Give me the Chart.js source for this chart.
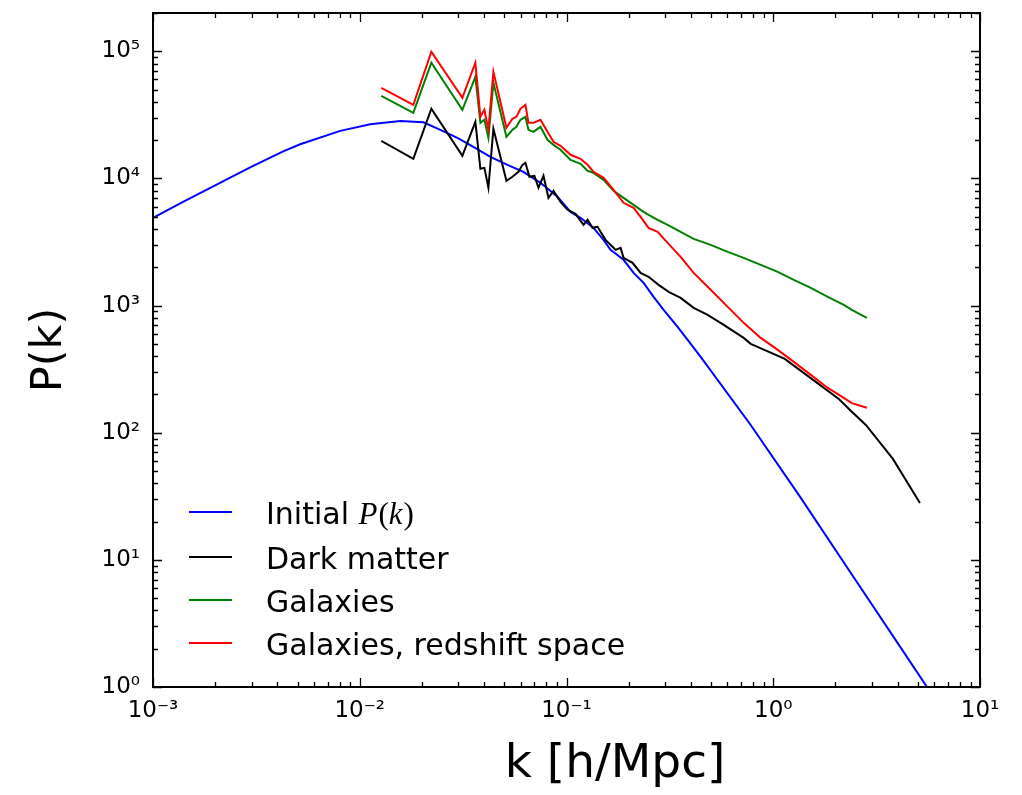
<!DOCTYPE html>
<html><head><meta charset="utf-8">
<script src="https://cdn.jsdelivr.net/npm/chart.js@4.4.1/dist/chart.umd.min.js"></script>
<style>html,body{margin:0;padding:0;background:#fff;}</style>
</head><body>
<canvas id="c" width="1022" height="795"></canvas>
<script>
// ---- data ----
const initialK = [0.001, 0.001397, 0.002042, 0.002951, 0.004261, 0.005152, 0.008045, 0.01124, 0.01571, 0.0203, 0.02454, 0.02966, 0.03546, 0.04285, 0.0518, 0.0619, 0.07482, 0.09045, 0.1046, 0.1169, 0.1351, 0.1511, 0.1633, 0.1888, 0.2111, 0.236, 0.2638, 0.2949, 0.3447, 0.3855, 0.4456, 0.778, 1.359, 2.373, 4.143, 6.473];
const initialP = [4898, 6546, 8990, 12230, 16340, 18550, 23660, 26650, 28230, 27620, 24110, 20850, 17740, 14790, 12790, 11270, 9230, 7166, 5458, 4898, 4085, 3288, 2744, 2290, 1808, 1509, 1170, 925, 680, 537, 395, 115, 30.7, 7.89, 2.03, 0.684];

const dmK = [0.01271, 0.01816, 0.0222, 0.03136, 0.03624, 0.03833, 0.04008, 0.0419, 0.04431, 0.05122, 0.05477, 0.05857, 0.06122, 0.06331, 0.06619, 0.06998, 0.07318, 0.07737, 0.0818, 0.0865, 0.09352, 0.1011, 0.1106, 0.1209, 0.1264, 0.1336, 0.1413, 0.1545, 0.1727, 0.1826, 0.1888, 0.2087, 0.2282, 0.2494, 0.2789, 0.3118, 0.3565, 0.4121, 0.4817, 0.5759, 0.7195, 0.778, 1.137, 1.661, 2.076, 2.399, 2.805, 3.791, 5.122];
const dmP = [19770, 14270, 35300, 15060, 27880, 11900, 12100, 8440, 24560, 9580, 10300, 11270, 12790, 13270, 10300, 10480, 8440, 10480, 7036, 7986, 6546, 5664, 5270, 4318, 4725, 4085, 4162, 3288, 2744, 2845, 2373, 2168, 1808, 1683, 1455, 1282, 1150, 959, 845, 705, 557, 500, 381, 241, 184, 146, 115, 62.2, 28.0];

const galK = [0.01271, 0.01816, 0.0222, 0.03136, 0.03624, 0.03833, 0.04008, 0.0419, 0.04431, 0.05122, 0.05477, 0.05726, 0.05987, 0.06331, 0.06546, 0.06921, 0.07482, 0.08091, 0.0865, 0.09352, 0.1046, 0.1169, 0.1264, 0.1351, 0.1511, 0.1689, 0.1888, 0.2111, 0.2282, 0.2494, 0.2759, 0.3084, 0.3565, 0.4121, 0.4981, 0.6022, 0.7195, 0.87, 1.051, 1.257, 1.519, 1.836, 2.194, 2.399, 2.837];
const galP = [44650, 32810, 81200, 34640, 63000, 27360, 28900, 20850, 56500, 21250, 24110, 25460, 28900, 30530, 24110, 23260, 25460, 20120, 18370, 16800, 14000, 13030, 11480, 11070, 9750, 7986, 7036, 6198, 5664, 5173, 4725, 4318, 3800, 3348, 3004, 2646, 2373, 2091, 1842, 1593, 1378, 1170, 1013, 925, 800];
const rsdP = [51600, 37930, 99100, 43060, 81200, 30530, 34640, 24110, 69000, 24990, 29440, 30530, 35300, 37930, 27360, 27360, 28900, 23260, 19410, 18040, 15340, 14270, 12790, 11270, 10110, 8130, 6427, 5870, 4990, 4085, 3800, 3113, 2417, 1808, 1330, 977, 731, 557, 448, 361, 285, 225, 188, 171, 157];

const seriesLabels = ['Initial P(k)', 'Dark matter', 'Galaxies', 'Galaxies, redshift space'];
const seriesColors = ['#0000ff', '#000000', '#008000', '#ff0000'];
const xDecades = [-3, -2, -1, 0, 1];
const yDecades = [0, 1, 2, 3, 4, 5];
const xLimits = [1e-3, 10];
const yLimits = [1, 2e5];
const xTitle = 'k [h/Mpc]';
const yTitle = 'P(k)';

// ---- helpers ----
const pts = (ks, ps) => ks.map((k, i) => ({x: k, y: ps[i]}));
const SUP = {'-':'\u207B','0':'\u2070','1':'\u00B9','2':'\u00B2','3':'\u00B3','4':'\u2074','5':'\u2075','6':'\u2076','7':'\u2077','8':'\u2078','9':'\u2079'};
function isDecade(v){ const e = Math.log10(v); return Math.abs(e - Math.round(e)) < 1e-9; }
function decadeLabel(v){ if (!isDecade(v)) return ''; const e = Math.round(Math.log10(v)); return '10' + String(e).split('').map(c => SUP[c]).join(''); }
function logTicks(decades, lo, hi){
  const out = [];
  for (const d of decades) for (let m = 1; m <= 9; m++) { const v = m * Math.pow(10, d); if (v >= lo*0.999999 && v <= hi*1.000001) out.push({value: v, major: m === 1}); }
  return out;
}

const tickFont = {family: 'DejaVu Sans', size: 23};

const framePlugin = {
  id: 'frameTicks',
  afterDraw(chart){
    const {ctx, chartArea: {left, right, top, bottom}, scales: {x, y}} = chart;
    ctx.save();
    ctx.strokeStyle = '#000';
    ctx.lineWidth = 1.3;
    ctx.beginPath();
    x.ticks.forEach(t => {
      const px = Math.round(x.getPixelForValue(t.value)) + 0.5;
      const L = t.major ? 9 : 5;
      ctx.moveTo(px, bottom); ctx.lineTo(px, bottom - L);
      ctx.moveTo(px, top); ctx.lineTo(px, top + L);
    });
    y.ticks.forEach(t => {
      const py = Math.round(y.getPixelForValue(t.value)) + 0.5;
      const L = t.major ? 9 : 5;
      ctx.moveTo(left, py); ctx.lineTo(left + L, py);
      ctx.moveTo(right, py); ctx.lineTo(right - L, py);
    });
    ctx.stroke();
    ctx.lineWidth = 2;
    ctx.strokeRect(left, top, right - left, bottom - top);

    // x axis title (placed as in the reference, right of centre)
    ctx.fillStyle = '#000';
    ctx.font = '47px "DejaVu Sans"';
    ctx.textAlign = 'center';
    ctx.textBaseline = 'alphabetic';
    ctx.fillText(xTitle, 615, 777);

    // legend (inside plot, lower left)
    const lx0 = 189, lx1 = 232, tx = 266;
    const rows = [512, 557, 600, 643];
    const fs = 30;
    chart.data.datasets.slice().sort((a, b) => a.legendIndex - b.legendIndex).forEach((ds, i) => {
      const yy = rows[i];
      ctx.strokeStyle = ds.borderColor; ctx.lineWidth = 2;
      ctx.beginPath(); ctx.moveTo(lx0, yy); ctx.lineTo(lx1, yy); ctx.stroke();
      ctx.fillStyle = '#000';
      ctx.textBaseline = 'alphabetic';
      ctx.textAlign = 'left';
      const base = yy + 11.5;
      const lab = ds.label;
      if (lab.endsWith('P(k)')) {
        const pre = lab.slice(0, lab.length - 4);
        ctx.font = fs + 'px "DejaVu Sans"';
        ctx.fillText(pre, tx, base);
        let cx = tx + ctx.measureText(pre).width;
        const parts = [['P', true], ['(', false], ['k', true], [')', false]];
        parts.forEach(([s, it]) => {
          ctx.font = (it ? 'italic ' : '') + '31px "Liberation Serif"';
          ctx.fillText(s, cx, base);
          cx += ctx.measureText(s).width + (it ? 1 : 0);
        });
      } else {
        ctx.font = fs + 'px "DejaVu Sans"';
        ctx.fillText(lab, tx, base);
      }
    });
    ctx.restore();
  }
};

const datasets = [
  {label: seriesLabels[3], data: pts(galK, rsdP), borderColor: seriesColors[3], order: 0, legendIndex: 3},
  {label: seriesLabels[2], data: pts(galK, galP), borderColor: seriesColors[2], order: 1, legendIndex: 2},
  {label: seriesLabels[1], data: pts(dmK, dmP), borderColor: seriesColors[1], order: 2, legendIndex: 1},
  {label: seriesLabels[0], data: pts(initialK, initialP), borderColor: seriesColors[0], order: 3, legendIndex: 0}
].map(d => Object.assign(d, {borderWidth: 2, pointRadius: 0, tension: 0, fill: false}));

new Chart(document.getElementById('c'), {
  type: 'line',
  data: {datasets},
  options: {
    responsive: false,
    animation: false,
    layout: {padding: {top: 13, right: 42, bottom: 0, left: 0}},
    plugins: {legend: {display: false}, tooltip: {enabled: false}},
    scales: {
      x: {
        type: 'logarithmic', min: xLimits[0], max: xLimits[1],
        afterBuildTicks: s => { s.ticks = logTicks(xDecades, xLimits[0], xLimits[1]); },
        afterFit: s => { s.height = 108; s.paddingLeft = 0; s.paddingRight = 0; },
        grid: {display: false, drawTicks: false},
        border: {display: false},
        ticks: {callback: v => decadeLabel(v), autoSkip: false, maxRotation: 0, minRotation: 0, font: tickFont, color: '#000', padding: 10},
        title: {display: false}
      },
      y: {
        type: 'logarithmic', min: yLimits[0], max: yLimits[1],
        afterBuildTicks: s => { s.ticks = logTicks(yDecades, yLimits[0], yLimits[1]); },
        afterFit: s => { s.width = 153; s.paddingTop = 0; s.paddingBottom = 0; },
        grid: {display: false, drawTicks: false},
        border: {display: false},
        ticks: {callback: v => decadeLabel(v), autoSkip: false, font: tickFont, color: '#000', padding: 13},
        title: {display: true, text: yTitle, font: {family: 'DejaVu Sans', size: 43}, color: '#000', padding: {top: 24, bottom: 0}}
      }
    }
  },
  plugins: [framePlugin]
});
</script>
</body></html>
